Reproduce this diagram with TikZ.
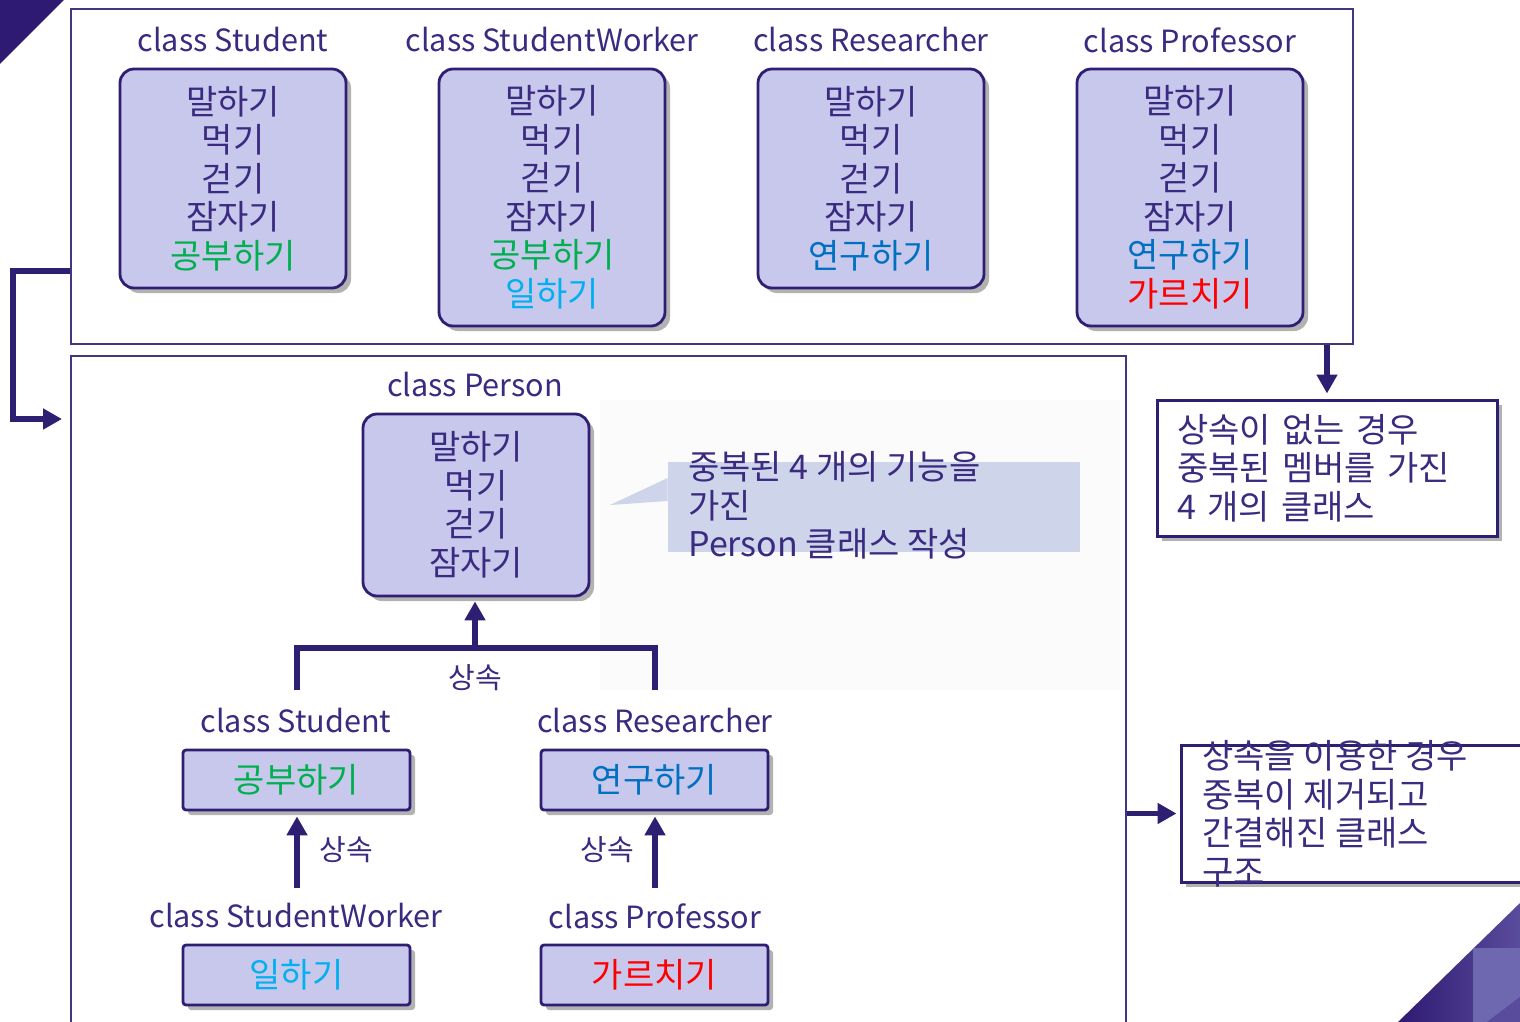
\documentclass[tikz,border=0pt]{standalone}
\usepackage{fontspec}
\setmainfont{Noto Sans CJK KR}
\usetikzlibrary{arrows.meta,shadows,fit,calc}
\definecolor{dp}{HTML}{2F1F73}
\definecolor{tc}{HTML}{3A2B80}
\definecolor{bf}{HTML}{C8C8EC}
\definecolor{cf}{HTML}{CED4EA}
\definecolor{cg}{HTML}{00B050}
\definecolor{cb}{HTML}{0070C0}
\definecolor{cl}{HTML}{00B0F0}
\definecolor{cr}{HTML}{FF0000}
\definecolor{d1}{HTML}{2E1A72}
\definecolor{d2}{HTML}{5A4C9C}
\definecolor{d3}{HTML}{6E68B0}
\newcommand\mfs{\fontsize{17pt}{19.25pt}\selectfont}
\newcommand\lfs{\fontsize{15.3pt}{19.25pt}\selectfont}
\newcommand\sfs{\fontsize{14.5pt}{16pt}\selectfont}
\tikzset{
  shad/.style={drop shadow={shadow xshift=2.5pt,shadow yshift=-2.5pt,opacity=0.3,fill=black}},
  cbox/.style={draw=dp,line width=1.4pt,fill=bf,rounded corners=7pt,inner sep=0pt,align=center,text=tc,font=\mfs,minimum width=113pt,shad},
  sbox/.style={draw=dp,line width=1.4pt,fill=bf,rounded corners=1.5pt,inner sep=0pt,align=center,text=tc,font=\mfs,minimum width=113.5pt,minimum height=30pt,shad},
  frame/.style={draw=dp!90,line width=1pt,inner sep=0pt},
  clab/.style={text=tc,font=\lfs,inner sep=0pt},
  slab/.style={text=tc,font=\sfs,inner sep=0pt},
  wbox/.style={draw=dp,line width=1.5pt,fill=white,inner sep=0pt,shad},
  ttext/.style={text=tc,font=\mfs,align=left,inner sep=0pt,anchor=north west},
  lin/.style={draw=dp,line width=2.6pt,line join=miter},
  arr/.style={draw=dp,line width=2.6pt,line join=miter,-{Triangle[length=9.5pt,width=10pt]}},
}
\begin{document}
\begin{tikzpicture}[x=0.5pt,y=-0.5pt]
\useasboundingbox (0,0) rectangle (1520,1022);
% decorations
\fill[d1] (0,0) -- (64,0) -- (0,64) -- cycle;
\shade[left color=d1,right color=d2] (1398,1022) -- (1520,903) -- (1520,1022) -- cycle;
\fill[d3] (1473,948) -- (1520,948) -- (1520,997) -- (1487,1022) -- (1473,1022) -- cycle;
\fill[d2] (1487,1022) -- (1520,997) -- (1520,1022) -- cycle;
% faint background behind callout
\fill[gray!3] (600,400) rectangle (1120,690);
\fill[gray!3] (640,440) rectangle (1100,640);
% frames
\node[frame,fit={(71,9)(1353,344)}] (topf) {};
\node[frame,fit={(71,356)(1126,1030)}] (botf) {};
% top row labels
\node[clab] (l1) at (233,40) {class Student};
\node[clab] (l2) at (552,40) {class StudentWorker};
\node[clab] (l3) at (871,40) {class Researcher};
\node[clab] (l4) at (1190,40) {class Professor};
% top row boxes
\node[cbox,minimum height=109.5pt] (b1) at (233,178.5) {말하기\\먹기\\걷기\\잠자기\\\textcolor{cg}{공부하기}};
\node[cbox,minimum height=128.5pt] (b2) at (552,197.5) {말하기\\먹기\\걷기\\잠자기\\\textcolor{cg}{공부하기}\\\textcolor{cl}{일하기}};
\node[cbox,minimum height=109.5pt] (b3) at (871,178.5) {말하기\\먹기\\걷기\\잠자기\\\textcolor{cb}{연구하기}};
\node[cbox,minimum height=128.5pt] (b4) at (1190,197.5) {말하기\\먹기\\걷기\\잠자기\\\textcolor{cb}{연구하기}\\\textcolor{cr}{가르치기}};
% left connector
\coordinate (lt) at (62,419);
\draw[arr] (topf.west |- 0,271) -- (13,271) -- (13,419) -- (lt);
% Person
\node[clab] (lp) at (475,385) {class Person};
\node[cbox,minimum height=91pt] (pb) at (476,505) {말하기\\먹기\\걷기\\잠자기};
% callout
\node[fill=cf,inner sep=0pt,fit={(668,462)(1080,552)}] (co) {};
\fill[cf] (co.west |- 0,478) -- (610,505) -- (co.west |- 0,501) -- cycle;
\node[ttext] (cot) at (688,451) {중복된 4 개의 기능을\\가진\\Person 클래스 작성};
% tree
\coordinate (j) at (475,648);
\coordinate (sL) at (297,690);
\coordinate (sR) at (655,690);
\draw[lin] (sL) |- (j) -| (sR);
\draw[arr,shorten >=2pt] (j) -- (pb.south -| j);
\node[slab] (i1) at (475,678) {상속};
\node[clab] (ls) at (296,721) {class Student};
\node[clab] (lr) at (655,721) {class Researcher};
\node[sbox] (s1) at (296.5,780) {\textcolor{cg}{공부하기}};
\node[sbox] (r1) at (654.5,780) {\textcolor{cb}{연구하기}};
\coordinate (w1) at (297,888);
\coordinate (p1) at (655,888);
\draw[arr,shorten >=2.5pt] (w1) -- (s1.south -| w1);
\draw[arr,shorten >=2.5pt] (p1) -- (r1.south -| p1);
\node[slab] (i2) at (346,850) {상속};
\node[slab] (i3) at (607,850) {상속};
\node[clab] (lw) at (296,916) {class StudentWorker};
\node[clab] (lf) at (655,916) {class Professor};
\node[sbox] (s2) at (296.5,975) {\textcolor{cl}{일하기}};
\node[sbox] (r2) at (654.5,975) {\textcolor{cr}{가르치기}};
% right boxes
\node[wbox,text=tc,font=\mfs,align=left,text width=150pt,inner xsep=10pt,minimum height=68pt] (n1) at (1327,468) {상속이 없는 경우\\중복된 멤버를 가진\\4 개의 클래스};
\draw[arr,shorten >=2.5pt] (topf.south -| n1.north) -- (n1.north);
\node[wbox,fit={(1181,745)(1540,882)}] (n2) {};
\node[ttext] (n2t) at (1202,740) {상속을 이용한 경우\\중복이 제거되고\\간결해진 클래스\\구조};
\draw[arr,shorten >=1.5pt] (botf.east |- n2.west) -- (n2.west);
\end{tikzpicture}
\end{document}
